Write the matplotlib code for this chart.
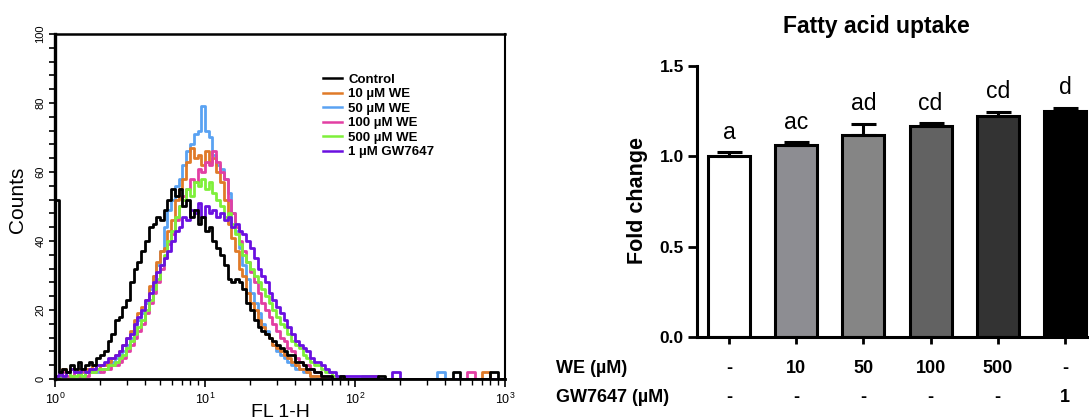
import numpy as np
import matplotlib
matplotlib.use('Agg')
import matplotlib.pyplot as plt
from matplotlib.ticker import MultipleLocator, LogLocator, NullFormatter
from matplotlib.lines import Line2D
from matplotlib.transforms import blended_transform_factory

plt.rcParams['font.family'] = ['Liberation Sans', 'DejaVu Sans']

# ---- histogram data (FL1-H channel values and counts) ----
fl1 = [1.000, 1.059, 1.122, 1.189, 1.259, 1.334, 1.413, 1.496, 1.585, 1.679,
       1.778, 1.884, 1.995, 2.113, 2.239, 2.371, 2.512, 2.661, 2.818, 2.985,
       3.162, 3.350, 3.548, 3.758, 3.981, 4.217, 4.467, 4.732, 5.012, 5.309,
       5.623, 5.957, 6.310, 6.683, 7.079, 7.499, 7.943, 8.414, 8.913, 9.441,
       10.00, 10.59, 11.22, 11.89, 12.59, 13.34, 14.13, 14.96, 15.85, 16.79,
       17.78, 18.84, 19.95, 21.13, 22.39, 23.71, 25.12, 26.61, 28.18, 29.85,
       31.62, 33.50, 35.48, 37.58, 39.81, 42.17, 44.67, 47.32, 50.12, 53.09,
       56.23, 59.57, 63.10, 66.83, 70.79, 74.99, 79.43, 84.14, 89.13, 94.41,
       100.0, 112.2, 125.9, 141.3, 158.5, 177.8, 199.5, 223.9, 251.2, 281.8,
       316.2, 354.8, 398.1, 446.7, 501.2, 562.3, 631.0, 707.9, 794.3, 891.3,
       1000.0]

control = [52, 2, 3, 2, 4, 3, 5, 3, 4, 5,
           4, 6, 7, 8, 11, 13, 17, 18, 21, 23,
           28, 32, 34, 37, 40, 44, 45, 47, 46, 49,
           52, 55, 53, 55, 50, 52, 47, 49, 45, 47,
           43, 44, 40, 38, 36, 33, 29, 28, 29, 28,
           26, 22, 20, 17, 15, 14, 13, 12, 11, 10,
           9, 8, 7, 7, 5, 5, 4, 3, 3, 2,
           2, 1, 1, 1, 0, 0, 1, 0, 0, 0,
           0, 0, 0, 1, 0, 0, 0, 0, 0, 0,
           0, 0, 0, 2, 0, 0, 0, 0, 2, 0, 0]

we10 = [1, 2, 3, 2, 3, 2, 3, 2, 3, 3,
        4, 3, 4, 4, 5, 6, 7, 8, 10, 12,
        14, 17, 19, 21, 23, 27, 30, 34, 37, 38,
        43, 46, 52, 55, 58, 63, 67, 64, 65, 62,
        66, 63, 64, 60, 57, 52, 45, 41, 37, 32,
        30, 25, 22, 20, 17, 15, 13, 12, 10, 9,
        8, 7, 6, 5, 4, 3, 3, 2, 1, 1,
        1, 0, 1, 0, 0, 0, 0, 0, 0, 0,
        0, 0, 1, 0, 0, 0, 0, 0, 0, 0,
        0, 0, 0, 0, 0, 0, 0, 2, 0, 0, 0]

we50 = [1, 2, 1, 2, 1, 2, 2, 1, 2, 2,
        3, 2, 3, 3, 4, 5, 6, 7, 8, 10,
        12, 14, 17, 19, 22, 26, 30, 33, 37, 44,
        49, 52, 56, 58, 62, 66, 68, 71, 72, 79,
        72, 70, 65, 62, 61, 58, 54, 48, 43, 38,
        33, 29, 25, 22, 19, 16, 14, 12, 10, 8,
        7, 6, 5, 4, 3, 3, 2, 2, 1, 1,
        0, 1, 0, 0, 0, 0, 0, 0, 0, 0,
        0, 0, 0, 0, 0, 0, 0, 0, 0, 0,
        0, 2, 0, 0, 0, 0, 0, 0, 0, 0, 0]

we100 = [1, 1, 2, 1, 1, 2, 1, 2, 1, 2,
         2, 3, 2, 3, 3, 4, 4, 5, 6, 8,
         10, 12, 14, 16, 19, 22, 25, 28, 32, 35,
         39, 42, 46, 50, 53, 55, 58, 57, 61, 60,
         63, 62, 66, 63, 60, 58, 52, 48, 44, 40,
         37, 34, 31, 28, 25, 22, 20, 18, 16, 14,
         12, 11, 9, 8, 6, 5, 4, 4, 3, 2,
         2, 1, 1, 0, 1, 0, 0, 0, 0, 0,
         0, 0, 0, 0, 0, 0, 0, 0, 0, 0,
         0, 0, 0, 0, 0, 2, 0, 0, 0, 0, 0]

we500 = [0, 1, 1, 2, 1, 1, 2, 1, 2, 2,
         2, 3, 3, 3, 4, 4, 5, 6, 7, 9,
         11, 13, 15, 17, 20, 23, 26, 29, 33, 36,
         40, 43, 47, 50, 52, 55, 53, 57, 56, 58,
         55, 57, 54, 52, 50, 47, 48, 45, 42, 39,
         36, 34, 32, 30, 28, 26, 24, 22, 20, 18,
         16, 15, 13, 11, 10, 9, 7, 6, 5, 4,
         4, 3, 2, 2, 1, 1, 1, 0, 0, 0,
         0, 1, 0, 0, 0, 0, 0, 0, 0, 0,
         0, 0, 0, 0, 0, 0, 0, 0, 0, 0, 0]

gw7647 = [1, 2, 1, 2, 3, 2, 2, 3, 2, 3,
          3, 4, 4, 5, 6, 6, 7, 8, 10, 12,
          13, 16, 18, 20, 23, 25, 28, 31, 33, 35,
          37, 40, 43, 44, 47, 46, 49, 48, 51, 47,
          50, 48, 49, 47, 48, 46, 47, 44, 45, 43,
          42, 40, 38, 35, 32, 30, 28, 25, 23, 21,
          19, 17, 15, 13, 11, 10, 9, 8, 6, 5,
          5, 4, 3, 2, 2, 1, 1, 1, 1, 1,
          1, 1, 1, 0, 0, 2, 0, 0, 0, 0,
          0, 0, 0, 0, 0, 0, 0, 0, 0, 0, 0]

hist_labels = ['Control', '10 \u00b5M WE', '50 \u00b5M WE', '100 \u00b5M WE',
               '500 \u00b5M WE', '1 \u00b5M GW7647']
hist_colors = ['#000000', '#e07a28', '#5aa2f2', '#e23fa3', '#7ef03a', '#6a10e0']

# ---- bar chart data ----
groups = ['Control', 'WE 10', 'WE 50', 'WE 100', 'WE 500', 'GW7647 1']
fold_change = [1.00, 1.065, 1.12, 1.17, 1.226, 1.253]
sem = [0.022, 0.013, 0.06, 0.012, 0.022, 0.017]
letters = ['a', 'ac', 'ad', 'cd', 'cd', 'd']
we_row = ['-', '10', '50', '100', '500', '-']
gw_row = ['-', '-', '-', '-', '-', '1']
bar_colors = ['#ffffff', '#8d8d92', '#858585', '#626262', '#333333', '#000000']

fig = plt.figure(figsize=(10.89, 4.19), dpi=100)

# ---------------- left: flow cytometry histogram ----------------
ax1 = fig.add_axes([55 / 1089, 40 / 419, 450 / 1089, 345 / 419])
series = [control, we10, we50, we100, we500, gw7647]
draw_order = [2, 1, 3, 4, 5, 0]
for i in draw_order:
    ax1.step(fl1, series[i], where='post', color=hist_colors[i], lw=2.0)
ax1.set_xscale('log')
ax1.set_xlim(1, 1000)
ax1.set_ylim(0, 100)
ax1.yaxis.set_major_locator(MultipleLocator(20))
ax1.yaxis.set_minor_locator(MultipleLocator(4))
ax1.xaxis.set_minor_locator(LogLocator(base=10, subs=np.arange(2, 10)))
ax1.xaxis.set_minor_formatter(NullFormatter())
ax1.tick_params(axis='y', which='both', direction='out', length=4, width=1.2,
                labelsize=8, pad=3)
ax1.tick_params(axis='x', which='major', direction='out', length=6, width=1.2,
                labelsize=9, pad=3)
ax1.tick_params(axis='x', which='minor', direction='out', length=4, width=1.0)
for lab in ax1.get_yticklabels():
    lab.set_rotation(90)
    lab.set_va('center')
for side, lw in [('left', 2.4), ('bottom', 2.0), ('top', 1.8), ('right', 1.5)]:
    ax1.spines[side].set_linewidth(lw)
ax1.set_xlabel('FL 1-H', fontsize=14)
ax1.xaxis.set_label_coords(0.5, -0.072)
ax1.set_ylabel('Counts', fontsize=15)
ax1.yaxis.set_label_coords(-0.062, 0.52)

handles = [Line2D([], [], color=c, lw=1.8) for c in hist_colors]
ax1.legend(handles, hist_labels, loc='upper left', bbox_to_anchor=(0.596, 0.885),
           frameon=False, prop={'weight': 'bold', 'size': 9.5},
           handlelength=1.45, handletextpad=0.45, labelspacing=0.17,
           borderpad=0, borderaxespad=0)

# ---------------- right: fatty acid uptake bars ----------------
ax2 = fig.add_axes([697 / 1089, 82 / 419, 392 / 1089, 271 / 419])
x = np.arange(len(groups))
ax2.bar(x, fold_change, width=0.625, color=bar_colors, edgecolor='black',
        linewidth=2.2, zorder=2)
ax2.errorbar(x, fold_change, yerr=[np.zeros(len(sem)), sem], fmt='none',
             ecolor='black', elinewidth=2.2, capsize=9, capthick=2.2, zorder=3)
for xi, m, e, t in zip(x, fold_change, sem, letters):
    ax2.text(xi, m + e + 0.075, t, ha='center', va='baseline', fontsize=16.5)

ax2.set_xlim(-0.476, 5.357)
ax2.set_ylim(0, 1.5)
ax2.set_yticks([0, 0.5, 1.0, 1.5])
ax2.set_yticklabels(['0.0', '0.5', '1.0', '1.5'], fontweight='bold')
ax2.set_xticks(x)
ax2.set_xticklabels([''] * len(x))
ax2.tick_params(axis='y', direction='out', length=6.5, width=2.0, labelsize=12.5, pad=3)
ax2.tick_params(axis='x', direction='out', length=5, width=2.0)
for side in ['top', 'right']:
    ax2.spines[side].set_visible(False)
for side in ['left', 'bottom']:
    ax2.spines[side].set_linewidth(2.2)

trans = blended_transform_factory(ax2.transData, ax2.transAxes)
ax2.text(-2.574, -0.118, 'WE (\u00b5M)', transform=trans, ha='left', va='center',
         fontsize=13, fontweight='bold')
ax2.text(-2.574, -0.223, 'GW7647 (\u00b5M)', transform=trans, ha='left', va='center',
         fontsize=13, fontweight='bold')
for xi, a, b in zip(x, we_row, gw_row):
    ax2.text(xi, -0.118, a, transform=trans, ha='center', va='center',
             fontsize=13, fontweight='bold')
    ax2.text(xi, -0.223, b, transform=trans, ha='center', va='center',
             fontsize=13, fontweight='bold')

fig.text(638 / 1089, 1 - 200 / 419, 'Fold change', rotation=90, ha='center',
         va='center', fontsize=15.5, fontweight='bold')
fig.text(876 / 1089, 1 - 26 / 419, 'Fatty acid uptake', ha='center', va='center',
         fontsize=16.5, fontweight='bold')

fig.savefig('out.png', dpi=100)
